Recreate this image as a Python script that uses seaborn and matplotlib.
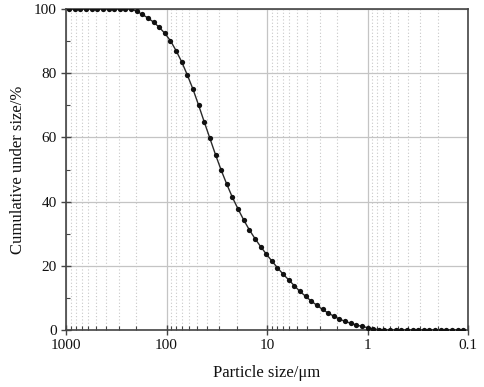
import matplotlib
matplotlib.use("Agg")
import matplotlib.pyplot as plt
import matplotlib.ticker as mticker
import seaborn as sns
import pandas as pd

# Particle sizes (µm), instrument bins
sizes = [930.6, 817.8, 719.1, 631.8, 555.5, 488.1, 429.1, 377.2, 331.5, 291.4,
         256.2, 225.2, 197.9, 174.0, 152.9, 134.4, 118.1, 103.8, 91.29, 80.23,
         70.53, 62.00, 54.50, 47.90, 42.11, 37.01, 32.53, 28.59, 25.13, 22.09,
         19.42, 17.07, 15.00, 13.19, 11.59, 10.19, 8.954, 7.870, 6.918, 6.081,
         5.346, 4.698, 4.130, 3.630, 3.191, 2.805, 2.466, 2.167, 1.905, 1.675,
         1.472, 1.294, 1.137, 0.9993, 0.8785, 0.7722, 0.6788, 0.5965, 0.5244,
         0.4609, 0.4052, 0.3562, 0.3131, 0.2752, 0.2419, 0.2126, 0.1869, 0.1643,
         0.1444, 0.1269, 0.1115]
# Cumulative under size (%)
cumulative = [100, 100, 100, 100, 100, 100, 100, 100, 100, 100, 100, 100,
              99.3, 98.3, 97.2, 95.9, 94.3, 92.4, 90.1, 87.0, 83.5, 79.4,
              75.0, 70.0, 64.8, 59.7, 54.6, 49.8, 45.4, 41.3, 37.7, 34.3,
              31.2, 28.5, 26.0, 23.7, 21.5, 19.4, 17.4, 15.6, 13.8, 12.0,
              10.5, 9.0, 7.7, 6.4, 5.3, 4.3, 3.4, 2.7, 2.1, 1.6,
              1.1, 0.75, 0.35, 0.15, 0.05, 0, 0, 0, 0, 0,
              0, 0, 0, 0, 0, 0, 0, 0, 0]

x_ticks = [1000, 100, 10, 1, 0.1]
x_tick_labels = ["1000", "100", "10", "1", "0.1"]
y_ticks = [0, 20, 40, 60, 80, 100]

df = pd.DataFrame({"size": sizes, "cum": cumulative})

sns.set_theme(style="white")
plt.rcParams["font.family"] = ["Liberation Serif", "DejaVu Serif"]

fig = plt.figure(figsize=(4.84, 3.87), dpi=100)
ax = fig.add_axes([0.1364, 0.1473, 0.967 - 0.1364, 0.9767 - 0.1473])

sns.lineplot(data=df, x="size", y="cum", ax=ax, color="#2a2a2a", linewidth=1.0,
             marker="o", markersize=3.8, markeredgewidth=0,
             markerfacecolor="#111111", zorder=5)

ax.set_xscale("log")
ax.set_xlim(1000, 0.1)
ax.set_ylim(0, 100)

ax.xaxis.set_major_locator(mticker.FixedLocator(x_ticks))
ax.xaxis.set_major_formatter(mticker.FixedFormatter(x_tick_labels))
ax.xaxis.set_minor_locator(mticker.LogLocator(base=10, subs=range(2, 10), numticks=20))
ax.xaxis.set_minor_formatter(mticker.NullFormatter())
ax.yaxis.set_major_locator(mticker.FixedLocator(y_ticks))
ax.yaxis.set_minor_locator(mticker.MultipleLocator(10))

ax.grid(which="major", axis="both", color="#c4c4c4", linewidth=0.9, linestyle="-")
ax.grid(which="minor", axis="x", color="#c8c8c8", linewidth=0.8, linestyle=(0, (1, 2)))
ax.set_axisbelow(True)

for s in ax.spines.values():
    s.set_visible(True)
    s.set_color("#444444")
    s.set_linewidth(1.2)

ax.tick_params(which="major", direction="inout", length=7, width=1, color="#444444",
               labelsize=11, labelcolor="#111111", bottom=True, left=True, pad=3)
ax.tick_params(which="minor", direction="in", length=3, width=0.8, color="#444444",
               bottom=True, left=True)

ax.set_xlabel("Particle size/μm", fontsize=12, color="#111111", labelpad=9)
ax.set_ylabel("Cumulative under size/%", fontsize=12, color="#111111", labelpad=6)

fig.savefig("out.png", dpi=100, facecolor="white")
